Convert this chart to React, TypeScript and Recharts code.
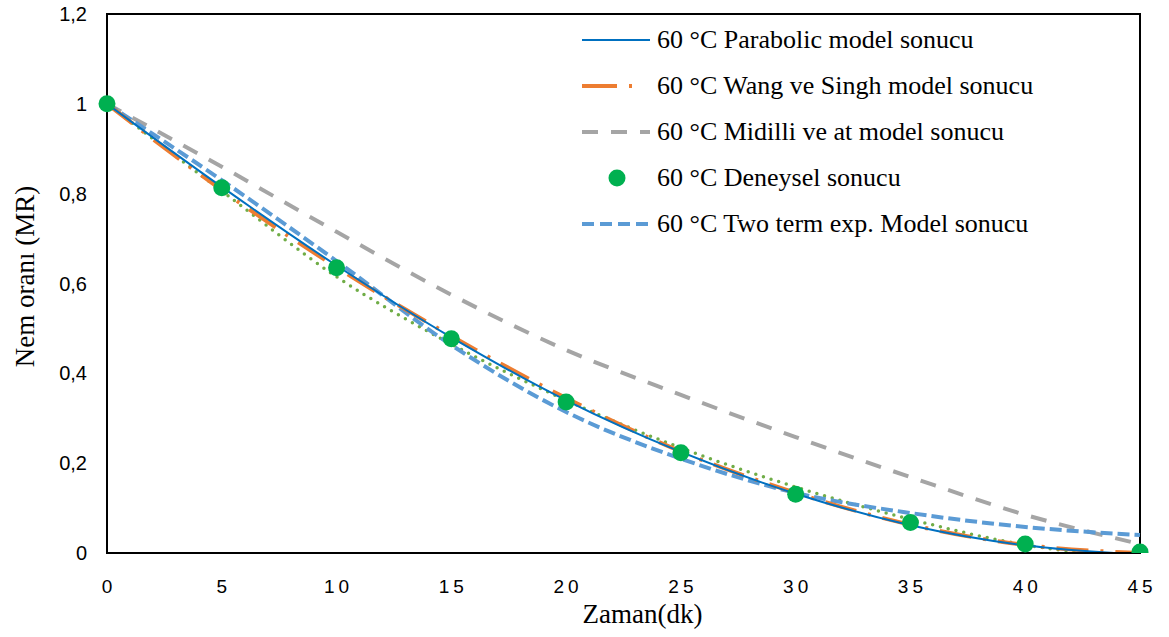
import { LineChart, Line, XAxis, YAxis, Legend, ReferenceArea, Label } from 'recharts'

// Zaman (dk)
const zaman = [0, 5, 10, 15, 20, 25, 30, 35, 40, 45]
// model ve deney sonuçları (MR)
const parabolic = [1, 0.815, 0.64, 0.48, 0.34, 0.225, 0.132, 0.062, 0.017, -0.004]
const wangSingh = [1, 0.808, 0.636, 0.483, 0.345, 0.226, 0.134, 0.063, 0.018, 0.0]
const midilli = [1, 0.86, 0.715, 0.575, 0.452, 0.352, 0.258, 0.169, 0.085, 0.02]
const deneysel = [1, 0.813, 0.635, 0.477, 0.336, 0.223, 0.131, 0.068, 0.02, 0.002]
const twoTerm = [1, 0.83, 0.65, 0.463, 0.314, 0.21, 0.134, 0.089, 0.058, 0.04]
const egilim = [1, 0.806, 0.615, 0.465, 0.34, 0.234, 0.147, 0.075, 0.018, -0.012]

const xTicks = [0, 5, 10, 15, 20, 25, 30, 35, 40, 45]
const yTicks = [0, 0.2, 0.4, 0.6, 0.8, 1, 1.2]

const data = zaman.map((t, i) => ({
  t,
  parabolic: parabolic[i],
  wangSingh: wangSingh[i],
  midilli: midilli[i],
  deneysel: deneysel[i],
  twoTerm: twoTerm[i],
  egilim: egilim[i],
}))

const serif = '"Liberation Serif", "Times New Roman", serif'
const sans = '"Liberation Sans", Arial, sans-serif'

const legendRows = [
  { name: '60 °C Parabolic model sonucu', kind: 'parabolic' },
  { name: '60 °C Wang ve Singh model sonucu', kind: 'wang' },
  { name: '60 °C Midilli ve at model sonucu', kind: 'midilli' },
  { name: '60 °C Deneysel sonucu', kind: 'dot' },
  { name: '60 °C Two term exp. Model sonucu', kind: 'two' },
]

function LegendIcon({ kind }: { kind: string }) {
  return (
    <svg width={72} height={20} style={{ display: 'block' }}>
      {kind === 'parabolic' && <line x1={2} y1={10} x2={70} y2={10} stroke="#0070C0" strokeWidth={2} />}
      {kind === 'wang' && (
        <line x1={2} y1={10} x2={70} y2={10} stroke="#ED7D31" strokeWidth={4} strokeDasharray="35 12 3 30" />
      )}
      {kind === 'midilli' && (
        <line x1={2} y1={10} x2={70} y2={10} stroke="#A5A5A5" strokeWidth={4} strokeDasharray="16 13" />
      )}
      {kind === 'dot' && <circle cx={37} cy={10} r={8.5} fill="#00B050" />}
      {kind === 'two' && (
        <line x1={2} y1={10} x2={70} y2={10} stroke="#5B9BD5" strokeWidth={4} strokeDasharray="12 6" />
      )}
    </svg>
  )
}

function ChartLegend() {
  return (
    <div style={{ fontFamily: serif, fontSize: 26, color: '#000', lineHeight: 1 }}>
      {legendRows.map((r) => (
        <div key={r.name} style={{ display: 'flex', alignItems: 'center', height: 46 }}>
          <LegendIcon kind={r.kind} />
          <span style={{ marginLeft: 5, whiteSpace: 'nowrap' }}>{r.name}</span>
        </div>
      ))}
    </div>
  )
}

export default function App() {
  return (
    <div style={{ position: 'absolute', left: 0, top: 0, width: 1169, height: 637, background: '#fff' }}>
      <LineChart width={1169} height={637} data={data} margin={{ top: 14, right: 29, left: 0, bottom: 0 }}>
        <XAxis
          dataKey="t"
          type="number"
          domain={[0, 45]}
          ticks={xTicks}
          height={84}
          tickLine={false}
          axisLine={{ stroke: '#000', strokeWidth: 2 }}
          tick={{ fill: '#000', fontSize: 19, fontFamily: sans, letterSpacing: 4, dx: 2, dy: 19 }}
        >
          <Label value="Zaman(dk)" position="insideBottom" offset={14} dx={19} fill="#000" fontSize={27} fontFamily={serif} />
        </XAxis>
        <YAxis
          type="number"
          domain={[0, 1.2]}
          ticks={yTicks}
          allowDataOverflow
          width={107}
          tickLine={false}
          axisLine={{ stroke: '#000', strokeWidth: 2 }}
          tickFormatter={(v: number) => String(v).replace('.', ',')}
          tick={{ fill: '#000', fontSize: 20, fontFamily: sans, dx: -12 }}
        >
          <Label
            value="Nem oranı (MR)"
            angle={-90}
            position="insideLeft"
            offset={24}
            dy={-7}
            fill="#000"
            fontSize={27}
            fontFamily={serif}
            style={{ textAnchor: 'middle' }}
          />
        </YAxis>
        <ReferenceArea x1={0} x2={45} y1={0} y2={1.2} fill="none" stroke="#000" strokeWidth={2} />
        <Legend
          layout="horizontal"
          align="center"
          verticalAlign="middle"
          wrapperStyle={{ left: 580, top: 17, width: 500 }}
          content={() => <ChartLegend />}
        />
        <Line
          type="monotone"
          dataKey="egilim"
          stroke="#70AD47"
          strokeWidth={3.5}
          strokeDasharray="0 8"
          strokeLinecap="round"
          dot={false}
          legendType="none"
          isAnimationActive={false}
        />
        <Line
          type="monotone"
          dataKey="midilli"
          stroke="#A5A5A5"
          strokeWidth={4}
          strokeDasharray="16 13"
          dot={false}
          isAnimationActive={false}
        />
        <Line
          type="monotone"
          dataKey="twoTerm"
          stroke="#5B9BD5"
          strokeWidth={4}
          strokeDasharray="12 5"
          dot={false}
          isAnimationActive={false}
        />
        <Line
          type="monotone"
          dataKey="wangSingh"
          stroke="#ED7D31"
          strokeWidth={4}
          strokeDasharray="32 12 3 12"
          dot={false}
          isAnimationActive={false}
        />
        <Line
          type="monotone"
          dataKey="parabolic"
          stroke="#0070C0"
          strokeWidth={2}
          dot={false}
          isAnimationActive={false}
        />
        <Line
          type="monotone"
          dataKey="deneysel"
          stroke="none"
          dot={{ r: 8.5, fill: '#00B050', stroke: 'none' }}
          activeDot={false}
          isAnimationActive={false}
        />
      </LineChart>
    </div>
  )
}
